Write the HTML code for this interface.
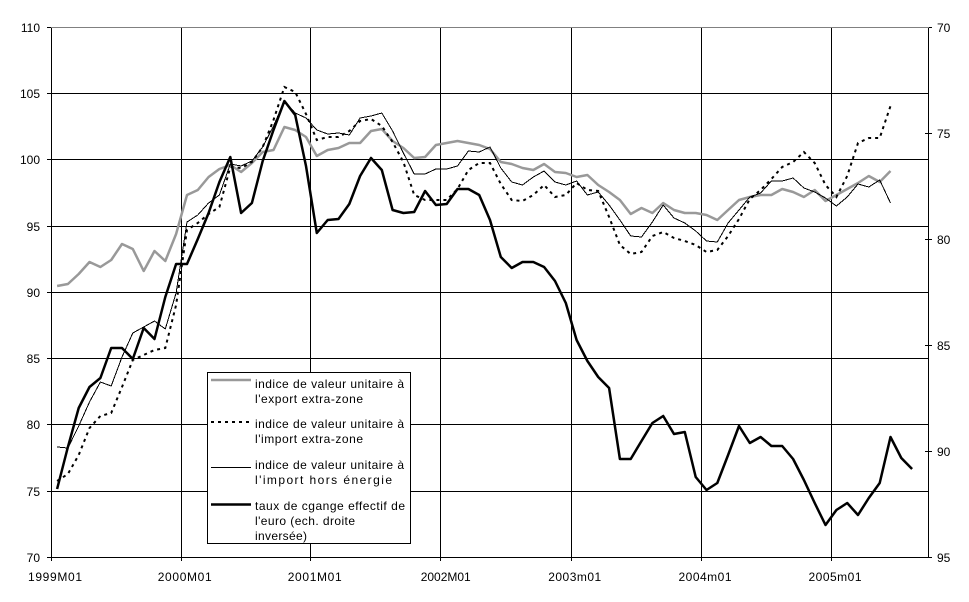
<!DOCTYPE html>
<html>
<head>
<meta charset="utf-8">
<style>
html,body{margin:0;padding:0;background:#fff;}
svg{display:block;}
text{font-family:"Liberation Sans",Arial,sans-serif;font-size:12px;fill:#000;}
</style>
</head>
<body>
<svg width="969" height="602" viewBox="0 0 969 602" xmlns="http://www.w3.org/2000/svg">
<rect x="0" y="0" width="969" height="602" fill="#fff"/>
<!-- gridlines -->
<g stroke="#000" stroke-width="1" shape-rendering="crispEdges" fill="none">
<line x1="51" y1="93.5" x2="929" y2="93.5"/>
<line x1="51" y1="159.5" x2="929" y2="159.5"/>
<line x1="51" y1="226.5" x2="929" y2="226.5"/>
<line x1="51" y1="292.5" x2="929" y2="292.5"/>
<line x1="51" y1="358.5" x2="929" y2="358.5"/>
<line x1="51" y1="424.5" x2="929" y2="424.5"/>
<line x1="51" y1="491.5" x2="929" y2="491.5"/>
<line x1="181.5" y1="27" x2="181.5" y2="561"/>
<line x1="310.5" y1="27" x2="310.5" y2="561"/>
<line x1="440.5" y1="27" x2="440.5" y2="561"/>
<line x1="571.5" y1="27" x2="571.5" y2="561"/>
<line x1="701.5" y1="27" x2="701.5" y2="561"/>
<line x1="831.5" y1="27" x2="831.5" y2="561"/>
<!-- axes -->
<line x1="51.5" y1="27" x2="51.5" y2="561"/>
<line x1="51" y1="557.5" x2="929" y2="557.5"/>
<line x1="928.5" y1="27" x2="928.5" y2="558"/>
<!-- left ticks -->
<line x1="47" y1="27.5" x2="52" y2="27.5"/>
<line x1="47" y1="93.5" x2="52" y2="93.5"/>
<line x1="47" y1="159.5" x2="52" y2="159.5"/>
<line x1="47" y1="226.5" x2="52" y2="226.5"/>
<line x1="47" y1="292.5" x2="52" y2="292.5"/>
<line x1="47" y1="358.5" x2="52" y2="358.5"/>
<line x1="47" y1="424.5" x2="52" y2="424.5"/>
<line x1="47" y1="491.5" x2="52" y2="491.5"/>
<line x1="47" y1="557.5" x2="52" y2="557.5"/>
<!-- right ticks -->
<line x1="925" y1="27.5" x2="932" y2="27.5"/>
<line x1="925" y1="133.5" x2="932" y2="133.5"/>
<line x1="925" y1="239.5" x2="932" y2="239.5"/>
<line x1="925" y1="345.5" x2="932" y2="345.5"/>
<line x1="925" y1="451.5" x2="932" y2="451.5"/>
<line x1="925" y1="557.5" x2="932" y2="557.5"/>
</g>
<line x1="51" y1="27.5" x2="929" y2="27.5" stroke="#808080" stroke-width="1" shape-rendering="crispEdges"/>

<!-- left axis labels -->
<g text-anchor="end">
<text x="40" y="32">110</text>
<text x="40" y="98">105</text>
<text x="40" y="164">100</text>
<text x="40" y="231">95</text>
<text x="40" y="297">90</text>
<text x="40" y="363">85</text>
<text x="40" y="429">80</text>
<text x="40" y="496">75</text>
<text x="40" y="562">70</text>
</g>
<!-- right axis labels -->
<g>
<text x="937" y="32">70</text>
<text x="937" y="138">75</text>
<text x="937" y="244">80</text>
<text x="937" y="350">85</text>
<text x="937" y="456">90</text>
<text x="937" y="562">95</text>
</g>
<!-- x labels -->
<g text-anchor="middle">
<text x="55" y="581" textLength="54" lengthAdjust="spacing">1999M01</text>
<text x="184.7" y="581" textLength="54" lengthAdjust="spacing">2000M01</text>
<text x="314.7" y="581" textLength="54" lengthAdjust="spacing">2001M01</text>
<text x="445.7" y="581" textLength="50" lengthAdjust="spacing">2002M01</text>
<text x="574.7" y="581" textLength="53" lengthAdjust="spacing">2003m01</text>
<text x="705" y="581" textLength="53" lengthAdjust="spacing">2004m01</text>
<text x="835" y="581" textLength="53" lengthAdjust="spacing">2005m01</text>
</g>

<!-- series -->
<polyline fill="none" stroke="#999999" stroke-width="2.5" stroke-linejoin="round" points="57.1,286 67.9,284 78.7,274 89.5,262 100.4,267 111.2,260 122.0,244 132.8,249 143.7,271 154.5,251 165.3,261 176.1,234 187.0,195 197.8,190 208.6,177 219.4,169 230.3,165 241.1,172 251.9,163 262.7,152 273.5,150 284.4,127 295.2,130 306.0,137 316.8,156 327.7,150 338.5,148 349.3,143 360.1,143 371.0,131 381.8,129 392.6,141 403.4,148 414.2,158 425.1,157 435.9,145 446.7,143 457.5,141 468.4,143 479.2,145 490.0,149 500.8,162 511.7,164 522.5,168 533.3,170 544.1,164 555.0,172 565.8,173 576.6,177 587.4,175 598.2,185 609.1,192 619.9,200 630.7,214 641.5,208 652.4,213 663.2,203 674.0,210 684.8,213 695.7,213 706.5,215 717.3,220 728.1,210 739.0,200 749.8,197 760.6,195 771.4,195 782.2,189 793.1,192 803.9,197 814.7,190 825.5,201 836.4,195 847.2,189 858.0,183 868.8,176 879.7,182 890.5,171"/>

<polyline fill="none" stroke="#000" stroke-width="2" stroke-dasharray="3 4" points="57.1,481 67.9,474 78.7,455 89.5,428 100.4,416 111.2,413 122.0,387 132.8,360 143.7,355 154.5,350 165.3,348 176.1,305 187.0,230 197.8,223 208.6,214 219.4,207 230.3,167 241.1,168 251.9,162 262.7,147 273.5,120 284.4,87 295.2,92 306.0,114 316.8,140 327.7,137 338.5,137 349.3,131 360.1,121 371.0,119 381.8,126 392.6,142 403.4,162 414.2,195 425.1,200 435.9,200 446.7,200 457.5,189 468.4,170 479.2,163 490.0,163 500.8,184 511.7,200 522.5,201 533.3,195 544.1,185 555.0,197 565.8,195 576.6,183 587.4,190 598.2,191 609.1,217 619.9,245 630.7,254 641.5,252 652.4,236 663.2,232 674.0,238 684.8,241 695.7,245 706.5,252 717.3,250 728.1,236 739.0,219 749.8,199 760.6,190 771.4,179 782.2,167 793.1,162 803.9,152 814.7,163 825.5,185 836.4,197 847.2,176 858.0,143 868.8,138 879.7,138 890.5,106"/>

<polyline fill="none" stroke="#000" stroke-width="1" shape-rendering="crispEdges" points="57.1,447 67.9,448 78.7,426 89.5,402 100.4,382 111.2,386 122.0,357 132.8,333 143.7,327 154.5,321 165.3,329 176.1,293 187.0,222 197.8,215 208.6,203 219.4,195 230.3,164 241.1,166 251.9,161 262.7,147 273.5,126 284.4,101 295.2,113 306.0,118 316.8,130 327.7,134 338.5,133 349.3,135 360.1,118 371.0,116 381.8,113 392.6,131 403.4,153 414.2,174 425.1,174 435.9,169 446.7,169 457.5,166 468.4,151 479.2,152 490.0,147 500.8,168 511.7,182 522.5,185 533.3,177 544.1,171 555.0,182 565.8,185 576.6,181 587.4,195 598.2,192 609.1,205 619.9,220 630.7,236 641.5,237 652.4,222 663.2,205 674.0,218 684.8,223 695.7,231 706.5,241 717.3,242 728.1,223 739.0,210 749.8,197 760.6,193 771.4,181 782.2,181 793.1,178 803.9,188 814.7,192 825.5,198 836.4,206 847.2,197 858.0,184 868.8,187 879.7,180 890.5,203"/>

<polyline fill="none" stroke="#000" stroke-width="2.5" stroke-linejoin="round" points="57.1,489 67.9,447 78.7,408 89.5,387 100.4,378 111.2,348 122.0,348 132.8,359 143.7,328 154.5,339 165.3,297 176.1,264 187.0,264 197.8,239 208.6,213 219.4,182 230.3,157 241.1,213 251.9,203 262.7,161 273.5,130 284.4,101 295.2,115 306.0,166 316.8,233 327.7,220 338.5,219 349.3,204 360.1,176 371.0,158 381.8,170 392.6,210 403.4,213 414.2,212 425.1,191 435.9,205 446.7,204 457.5,189 468.4,189 479.2,195 490.0,220 500.8,257 511.7,268 522.5,262 533.3,262 544.1,267 555.0,281 565.8,303 576.6,340 587.4,361 598.2,377 609.1,388 619.9,459 630.7,459 641.5,441 652.4,423 663.2,416 674.0,434 684.8,432 695.7,477 706.5,490 717.3,483 728.1,455 739.0,426 749.8,443 760.6,437 771.4,446 782.2,446 793.1,459 803.9,480 814.7,503 825.5,525 836.4,510 847.2,503 858.0,515 868.8,498 879.7,483 890.5,437 901.3,458 912.1,469"/>

<!-- legend -->
<rect x="207.5" y="372.5" width="203" height="171" fill="#fff" stroke="#000" stroke-width="1" shape-rendering="crispEdges"/>
<line x1="211" y1="380" x2="251" y2="380" stroke="#999999" stroke-width="2.5"/>
<line x1="211" y1="422" x2="251" y2="422" stroke="#000" stroke-width="2" stroke-dasharray="3 4"/>
<line x1="211" y1="467.5" x2="251" y2="467.5" stroke="#000" stroke-width="1" shape-rendering="crispEdges"/>
<line x1="211" y1="504.5" x2="251" y2="504.5" stroke="#000" stroke-width="2.5"/>
<text x="255" y="388" textLength="149" lengthAdjust="spacing">indice de valeur unitaire à</text>
<text x="255" y="403" textLength="108" lengthAdjust="spacing">l'export extra-zone</text>
<text x="255" y="428" textLength="149" lengthAdjust="spacing">indice de valeur unitaire à</text>
<text x="255" y="443" textLength="108" lengthAdjust="spacing">l'import extra-zone</text>
<text x="255" y="469" textLength="149" lengthAdjust="spacing">indice de valeur unitaire à</text>
<text x="255" y="484" textLength="137" lengthAdjust="spacing">l'import hors énergie</text>
<text x="255" y="510" textLength="150" lengthAdjust="spacing">taux de cgange effectif de</text>
<text x="255" y="525" textLength="100" lengthAdjust="spacing">l'euro (ech. droite</text>
<text x="255" y="540" textLength="52" lengthAdjust="spacing">inversée)</text>
</svg>
</body>
</html>
